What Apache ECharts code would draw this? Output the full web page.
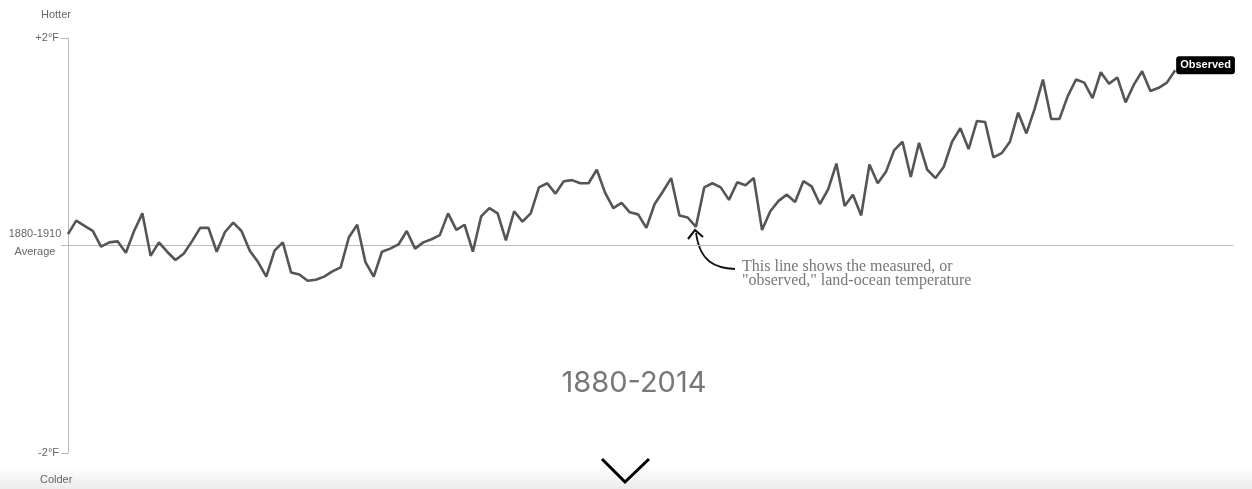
<!DOCTYPE html>
<html><head><meta charset="utf-8">
<script src="https://cdn.jsdelivr.net/npm/echarts@6/dist/echarts.min.js"></script>
<style>html,body{margin:0;padding:0;background:#fff}#c{width:1252px;height:489px}</style>
</head><body><div id="c"></div>
<script>
const startYear = 1880;
const endYear = 2014;
// Observed land-ocean temperature anomaly vs 1880-1910 average (°F)
const observed = [
 0.11, 0.24, 0.19, 0.14, -0.01, 0.03, 0.04, -0.07, 0.14, 0.31,
 -0.10, 0.03, -0.06, -0.14, -0.08, 0.04, 0.17, 0.17, -0.06, 0.13,
 0.22, 0.14, -0.05, -0.16, -0.30, -0.05, 0.03, -0.26, -0.28, -0.34,
 -0.33, -0.30, -0.25, -0.21, 0.08, 0.20, -0.16, -0.30, -0.06, -0.03,
 0.01, 0.14, -0.03, 0.03, 0.06, 0.10, 0.31, 0.15, 0.20, -0.06,
 0.28, 0.36, 0.31, 0.05, 0.33, 0.23, 0.31, 0.56, 0.60, 0.50,
 0.62, 0.63, 0.60, 0.60, 0.73, 0.51, 0.36, 0.41, 0.32, 0.30,
 0.17, 0.40, 0.52, 0.65, 0.29, 0.27, 0.18, 0.56, 0.60, 0.56,
 0.44, 0.61, 0.58, 0.65, 0.15, 0.33, 0.43, 0.49, 0.42, 0.62,
 0.57, 0.40, 0.54, 0.79, 0.38, 0.49, 0.29, 0.78, 0.60, 0.71,
 0.92, 1.00, 0.66, 0.99, 0.73, 0.65, 0.76, 1.00, 1.13, 0.93,
 1.20, 1.19, 0.85, 0.89, 1.00, 1.28, 1.08, 1.32, 1.60, 1.22,
 1.22, 1.44, 1.60, 1.57, 1.42, 1.67, 1.56, 1.62, 1.38, 1.55,
 1.68, 1.49, 1.52, 1.57, 1.69
];
const yTickLabels = { '2': ['+2°F'], '0': ['1880-1910', 'Average'], '-2': ['-2°F'] };
const seriesName = 'Observed';
const periodTitle = '1880-2014';
const noteLines = ['This line shows the measured, or', '"observed," land-ocean temperature'];

const pts = observed.map((v, i) => [startYear + i, v]);
const chart = echarts.init(document.getElementById('c'), null, { renderer: 'canvas' });
const sans = '"Liberation Sans", Arial, sans-serif';
const serif = '16px "Liberation Serif", serif';
chart.setOption({
  animation: false,
  grid: { left: 68, right: 19, top: 38, bottom: 36, containLabel: false },
  xAxis: {
    type: 'value', min: 1880, max: 2021,
    axisLine: { show: true, onZero: true, lineStyle: { color: '#bbb', width: 1 } },
    axisTick: { show: false }, axisLabel: { show: false }, splitLine: { show: false }
  },
  yAxis: {
    type: 'value', min: -2, max: 2, interval: 2,
    axisLine: { show: true, lineStyle: { color: '#bbb', width: 1 } },
    axisTick: { show: true, length: 7, lineStyle: { color: '#bbb' } },
    splitLine: { show: false },
    axisLabel: {
      margin: 6, color: '#666', fontFamily: sans, fontSize: 11,
      formatter: v => {
        const l = yTickLabels[String(v)] || [];
        if (l.length === 2) return '{a|' + l[0] + '}\n{a|' + l[1] + '}\n{s|}';
        return l.length ? '{p|' + l[0] + '}' : '';
      },
      rich: {
        a: { width: 54, align: 'center', lineHeight: 18, color: '#666', fontFamily: sans, fontSize: 11 },
        s: { lineHeight: 6, height: 6 },
        p: { padding: [0, 3, 0, 0], color: '#666', fontFamily: sans, fontSize: 11 }
      }
    }
  },
  series: [{
    type: 'line', name: seriesName, data: pts, symbol: 'none',
    lineStyle: { color: '#555', width: 2.6 },
    endLabel: {
      show: true, formatter: seriesName, color: '#fff', fontFamily: sans,
      fontWeight: 'bold', fontSize: 11, backgroundColor: '#000', borderRadius: 3,
      padding: [4, 4, 3, 4], distance: 1, offset: [0, -5]
    }
  }],
  graphic: [
    { type: 'rect', shape: { x: 0, y: 466, width: 1252, height: 23 },
      style: { fill: new echarts.graphic.LinearGradient(0, 0, 0, 1, [{ offset: 0, color: '#ffffff' }, { offset: 1, color: '#ececec' }]) }, z: -1 },
    { type: 'text', left: 41, top: 9, style: { text: 'Hotter', fill: '#666', font: '11px ' + sans } },
    { type: 'text', left: 40, top: 474, style: { text: 'Colder', fill: '#666', font: '11px ' + sans } },
    { type: 'text', x: 634, y: 383, style: { text: periodTitle, fill: '#777', font: '29px Inter, ' + sans, textAlign: 'center', textVerticalAlign: 'middle' } },
    { type: 'polyline', shape: { points: [[602, 459], [625, 482], [649, 459]] }, style: { stroke: '#000', lineWidth: 3, fill: null } },
    { type: 'bezierCurve', shape: { x1: 696, y1: 233, cpx1: 700, cpy1: 262, x2: 735, y2: 269, cpx2: 715, cpy2: 268 }, style: { stroke: '#111', lineWidth: 1.8, fill: null } },
    { type: 'polyline', shape: { points: [[688, 239], [695, 230], [703, 237]] }, style: { stroke: '#111', lineWidth: 2.2, fill: null } },
    { type: 'text', x: 742, y: 267, style: { text: noteLines[0], fill: '#777', font: serif, textVerticalAlign: 'middle' } },
    { type: 'text', x: 742, y: 281, style: { text: noteLines[1], fill: '#777', font: serif, textVerticalAlign: 'middle' } }
  ]
});
</script></body></html>
